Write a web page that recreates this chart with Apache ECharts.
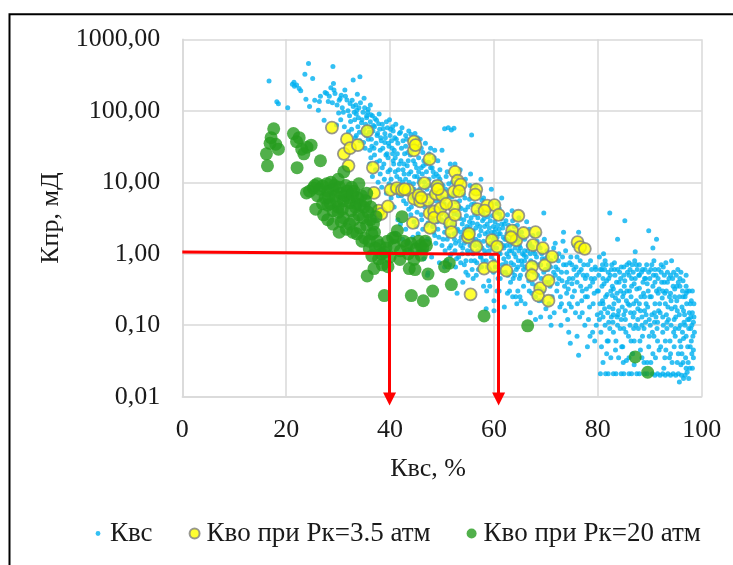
<!DOCTYPE html>
<html>
<head>
<meta charset="utf-8">
<script src="https://cdn.jsdelivr.net/npm/echarts@6/dist/echarts.min.js"></script>
<style>
html,body{margin:0;padding:0;background:#fff;}
#chart{width:733px;height:565px;}
</style>
</head>
<body>
<div id="chart"></div>
<script>
// ---- data (x = Квс, %; y = Кпр, мД) ----
const seriesNames = ['Квс', 'Кво при Рк=3.5 атм', 'Кво при Рк=20 атм'];
const yTicks = [0.01, 0.1, 1, 10, 100, 1000];
const xTicks = [0, 20, 40, 60, 80, 100];

const kvsHigh = [[16.7,260],[18.2,134],[18.5,125],[20.3,110],[21.2,235],[21.5,250],[21.6,220],[22,230],[22.5,205],[22.8,190],[23.6,325],[23.8,145],[24.3,460],[25.1,284],[24.5,115],[25.5,140],[26.2,102],[26.4,135],[26.6,160],[27.5,180],[27.8,174],[27.3,74],[28.1,135],[28.6,210],[29.0,415],[29.1,240],[29.2,195],[29.7,63],[30.1,93],[30.4,148],[30.6,165],[31.3,195],[31.7,141],[32.0,51],[32.3,126],[32.4,71],[32.9,115],[32.9,269],[33.6,102],[33.5,90],[34.2,300],[34.0,110],[34.8,95],[35.5,80],[35.8,105],[36.2,70],[36.6,85],[37.4,74],[37.0,60],[38.0,55],[38.5,65],[39.0,48],[39.5,58],[40.0,45],[40.6,52],[41.2,40],[41.8,48],[42.5,38],[43.0,45],[44.0,47],[44.5,35],[45.3,42],[46.0,30],[50.5,56],[51.2,58],[51.8,54],[52.3,57],[55.7,46]];

const kvsBandA = [[33.2,75],[33.8,60],[34.5,68],[35.0,55],[35.4,45],[36.0,50],[36.4,40],[36.8,62],[37.3,35],[37.6,48],[38.2,42],[38.6,30],[39.0,36],[39.4,25],[39.8,32],[40.3,38],[33.5,45],[34.2,38],[35.2,30],[36.1,28],[37.0,24],[38.0,20],[38.8,18],[39.6,22],[40.0,15],[35.5,85],[34.8,50],[36.5,32]];

const kvsBandB = [[40.5,60],[40.8,28],[41.0,22],[41.3,12],[41.5,35],[41.8,18],[42.0,9],[42.2,30],[42.5,15],[42.8,25],[43.0,11],[43.2,40],[43.5,20],[43.8,7],[44.0,14],[44.2,28],[44.5,9.5],[44.8,18],[45.0,5],[45.2,12],[45.5,22],[45.7,8],[46.0,3.5],[46.0,16],[43.6,4.2],[42.6,5.5],[41.6,6.5],[44.6,2.8],[45.4,1.9],[42.4,1.6],[43.4,1.4],[44.4,1.7],[46.0,1.2],[40.9,42],[42.0,50],[43.0,32],[45.0,30],[46.3,26],[41.2,9],[40.2,11]];

const kvsBandC = [[46.5,20],[46.6,10],[46.8,6],[47.0,14],[47.0,2.5],[47.3,0.54],[47.4,9],[47.6,4],[47.8,16],[48.0,7],[48.2,3],[48.4,12],[48.6,1.8],[48.8,5.5],[49.0,10],[49.2,2.2],[49.4,7.5],[49.6,15],[49.8,3.6],[50.0,1.3],[50.2,9],[50.4,5],[50.6,2.7],[50.8,12],[51.0,1.6],[51.2,6.5],[51.4,3.2],[51.6,18],[51.8,1.0],[52.0,4.2],[46.9,1.1],[48.0,0.9],[49.5,0.75],[50.5,0.65],[51.5,0.7],[47.5,25],[48.5,22],[49.2,20],[50.0,28],[51.0,14],[52.0,10],[47.2,0.5],[48.8,1.4]];

const kvsBandD = [[52.2,7],[52.4,2.5],[52.6,1.4],[52.8,12],[53.0,3.5],[53.2,0.9],[53.4,5.5],[53.6,2],[53.8,8],[54.0,1.2],[54.2,3],[54.4,6],[54.6,0.8],[54.8,2.4],[55.0,4.5],[55.2,1.6],[55.4,9],[55.6,3.2],[55.8,0.6],[56.0,2.1],[56.2,5],[56.4,1.3],[56.6,3.8],[56.8,2.6],[57.0,7],[57.2,1.8],[57.4,0.9],[57.6,4],[57.8,2.9],[58.0,1.5],[52.5,18],[53.5,15],[54.5,11],[55.5,13],[56.5,9],[57.5,11],[52.9,0.28],[54.0,0.4],[55.0,0.5],[56.0,0.45],[57.0,0.6],[58.0,0.35],[53.3,4.5],[54.3,2.2],[55.3,2.8],[56.3,3.5],[57.3,2.4],[54.7,1.9],[55.7,1.1],[56.9,1.1],[53.7,1.7],[52.3,1.9],[58.0,6],[57.9,0.8]];

const kvsBandE = [[58.2,2.4],[58.4,1],[58.6,0.3],[58.8,3.3],[59.0,1.7],[59.2,0.6],[59.4,4.4],[59.6,2],[59.8,1.2],[60.0,0.8],[60.2,2.8],[60.4,1.5],[60.6,5],[60.8,0.45],[61.0,2.2],[61.2,1],[61.4,3.1],[61.6,0.7],[61.8,1.7],[62.0,2.6],[62.2,0.55],[62.4,1.3],[62.6,3.5],[62.8,0.9],[63.0,2],[63.2,0.4],[63.4,1.1],[63.6,2.9],[63.8,0.7],[64.0,1.6],[64.2,0.25],[64.4,0.2],[58.5,0.17],[60.0,0.22],[62.0,0.18],[61.0,0.3],[59.5,8],[61.5,6],[63.5,4],[60.5,3.8],[62.5,1.9],[59.0,0.42],[63.0,0.3],[64.0,0.5],[60.9,1.9],[61.9,1.2],[58.9,1.3],[59.9,2.4],[62.9,1.5],[63.9,1]];

const kvsBandF = [[64.5,2.5],[64.7,0.8],[64.9,1.3],[65.1,0.5],[65.3,2],[65.5,1],[65.7,0.35],[65.9,1.6],[66.1,0.65],[66.3,2.8],[66.5,1.1],[66.7,0.42],[66.9,1.4],[67.1,0.8],[67.3,0.28],[67.5,1.8],[67.7,0.55],[67.9,1.0],[68.1,0.35],[68.3,1.5],[68.5,0.7],[68.7,0.22],[68.9,1.2],[69.1,0.45],[69.3,0.85],[69.5,0.3],[69.7,1.6],[69.9,0.6],[70.0,0.17],[65.0,0.25],[66.0,0.2],[67.0,0.15],[68.0,0.12],[69.0,0.13],[69.6,3.7],[66.8,2.2],[68.6,1.9],[64.8,3.2],[67.4,1.25],[65.8,0.95]];

const kvsBandG = [[70.3,0.9],[70.6,0.4],[70.9,0.65],[71.2,0.25],[71.5,1.2],[71.8,0.5],[72.1,0.3],[72.4,0.8],[72.7,0.18],[73.0,0.55],[73.3,1.5],[73.4,2],[73.6,0.35],[73.9,0.7],[74.2,0.12],[74.5,0.45],[74.7,0.056],[74.8,0.9],[75.1,0.25],[75.4,0.6],[75.7,0.15],[76.0,0.4],[76.3,0.038],[76.3,2.0],[76.6,0.8],[76.9,0.22],[77.2,0.5],[77.5,0.1],[77.8,0.32],[78.1,0.7],[78.4,0.18],[78.7,0.45],[79.0,0.08],[79.3,0.28],[79.6,0.6],[79.9,0.14],[71.0,0.1],[72.0,0.9],[73.0,0.2],[74.0,0.28],[75.0,0.38],[76.0,0.9],[77.0,0.3],[78.0,0.25],[79.0,0.4],[72.5,0.45],[74.5,0.2],[76.5,0.13],[78.5,0.07],[77.0,1.1],[75.5,1.3]];

const kvsBandH = [[80.2,0.5],[80.4,0.2],[80.6,0.08],[80.8,0.35],[81.0,0.13],[81.1,1.0],[81.3,0.6],[81.5,0.25],[81.7,0.04],[81.9,0.15],[82.1,0.45],[82.3,3.7],[82.3,0.09],[82.5,0.3],[82.7,0.7],[82.9,0.11],[83.1,0.2],[83.3,0.5],[83.5,0.06],[83.8,1.6],[83.7,0.28],[83.9,0.14],[84.1,0.4],[84.3,0.09],[84.5,0.65],[84.7,0.18],[84.9,0.03],[85.1,0.35],[85.2,2.9],[85.3,0.12],[85.5,0.22],[85.7,0.55],[85.9,0.07],[86.1,0.3],[86.3,0.15],[86.5,0.45],[86.7,0.04],[86.9,0.2],[87.1,0.8],[87.2,1.07],[87.3,0.1],[87.5,0.32],[87.7,0.17],[87.9,0.5],[88.1,0.06],[88.3,0.25],[88.5,0.13],[88.7,0.4],[88.9,0.09],[89.1,0.6],[89.3,0.2],[89.5,0.03],[89.7,0.3],[89.8,2.1],[89.9,0.12],[80.5,0.021],[82,0.021],[83.5,0.021],[85,0.021],[86.5,0.021],[88,0.021],[89,0.021],[81,0.03],[84,0.035],[87,0.028],[80.9,0.7],[81.7,0.42],[82.8,0.26],[84.0,0.22],[85.0,0.5],[86.0,0.75],[87.0,0.38],[88.0,0.7],[89.0,0.16],[90.0,0.45]];

const kvsBandI = [[90.3,0.25],[90.5,0.08],[90.6,1.2],[90.7,0.5],[90.9,0.15],[91.1,0.035],[91.3,1.6],[91.3,0.3],[91.5,0.11],[91.7,0.6],[91.9,0.2],[92.1,0.05],[92.3,0.4],[92.5,0.13],[92.7,0.025],[92.9,0.28],[93.1,0.75],[93.3,0.09],[93.5,0.18],[93.7,0.45],[93.9,0.06],[94.1,0.22],[94.3,0.03],[94.5,0.35],[94.7,0.12],[94.9,0.07],[95.1,0.5],[95.3,0.16],[95.5,0.04],[95.7,0.25],[95.9,0.1],[96.1,0.02],[96.3,0.3],[96.5,0.065],[96.7,0.14],[96.9,0.035],[97.1,0.2],[97.3,0.05],[97.5,0.09],[97.7,0.025],[97.9,0.13],[98.1,0.04],[98.3,0.07],[95.7,0.016],[94,0.02],[92,0.02],[91,0.02],[93,0.02],[95,0.02],[96.5,0.018],[90.8,0.8],[92.6,0.65],[94.2,0.8],[96.0,0.55],[97.0,0.35],[98.0,0.22],[96.8,0.1],[95.8,0.06],[97.6,0.15],[93.2,0.14],[91.8,0.32],[94.8,0.25],[98.4,0.11]];

const kvsFillA = [[28.3,160],[28.9,130],[29.4,175],[29.8,120],[30.2,140],[30.8,110],[31.0,95],[31.4,160],[31.9,100],[32.2,85],[32.7,140],[33.1,95],[33.4,120],[33.9,80],[34.3,130],[34.6,75],[35.1,110],[35.3,65],[35.7,95],[36.0,60],[36.3,88],[36.7,52],[37.1,78],[37.5,45],[37.8,66],[38.3,38],[38.7,56],[39.1,42],[39.3,70],[39.7,35],[40.1,55],[40.4,30],[30.5,75],[31.2,60],[32.6,55],[33.3,42],[34.1,50],[34.9,36],[35.8,40],[36.9,30],[38.1,28],[39.2,24],[40.6,20],[37.9,90],[36.2,120],[35.0,150],[33.7,170],[39.9,75],[41.1,65],[42.3,58],[43.6,52],[44.8,48],[45.8,40],[46.8,35],[47.8,30],[48.6,28]];

const kvsFillB = [[40.7,18],[41.0,14],[41.4,25],[41.9,11],[42.1,20],[42.7,13],[42.9,8],[43.3,17],[43.7,10],[43.9,24],[44.3,6],[44.7,12],[45.1,16],[45.3,7],[45.6,10],[45.9,5.5],[46.2,13],[46.4,7],[46.7,4.5],[46.9,18],[47.1,8],[47.5,11],[47.7,5],[47.9,3.2],[48.1,9],[48.3,14],[48.6,4],[48.9,7],[49.1,2.8],[49.3,12],[49.6,5.5],[49.9,3],[49.8,9.5],[44.0,3.5],[45.0,2.4],[46.3,2.2],[47.2,1.6],[48.4,2.0],[49.4,1.7],[43.0,2.2],[42.0,2.6],[41.5,3],[40.8,4.5],[41.1,1.9],[44.9,1.0],[46.5,0.85],[43.8,1.1]];

const kvsFillC = [[50.1,4.2],[50.3,6],[50.5,2],[50.7,8],[50.9,3.4],[51.1,2.3],[51.3,9.5],[51.5,4.8],[51.7,1.3],[51.9,6.2],[52.1,2.9],[52.3,3.6],[52.5,1.1],[52.7,5.3],[52.9,2.1],[53.1,7.5],[53.3,1.5],[53.5,3.1],[53.7,4.3],[53.9,2.6],[54.1,6.8],[54.3,1.4],[54.5,4.1],[54.7,3.4],[54.9,1.1],[55.1,2.2],[55.3,5.8],[55.5,1.8],[55.7,4.9],[55.9,2.7],[56.1,1.5],[56.3,7.4],[56.5,2.3],[56.7,0.75],[56.9,3.2],[57.1,4.5],[57.3,1.3],[57.5,2.1],[57.7,5.6],[57.9,3.6],[50.6,1.1],[51.6,0.95],[52.6,0.65],[53.6,0.75],[54.6,0.55],[55.6,0.8],[56.6,0.5],[57.6,0.65],[53.9,1.0],[55.4,1.3],[56.0,1.0]];

const kvsFillD = [[58.1,3.1],[58.3,1.9],[58.5,0.8],[58.7,2.6],[58.9,4.0],[59.1,1.1],[59.3,2.9],[59.5,0.9],[59.7,3.4],[59.9,1.6],[60.1,2.0],[60.3,0.65],[60.5,1.2],[60.7,2.5],[60.9,1.0],[61.1,3.6],[61.3,1.4],[61.5,0.55],[61.7,2.3],[61.9,0.85],[62.1,1.6],[62.3,2.9],[62.5,1.0],[62.7,0.5],[62.9,2.1],[63.1,1.3],[63.3,0.75],[63.5,1.7],[63.7,0.45],[63.9,2.4],[64.1,1.2],[64.3,0.6],[64.5,1.5],[64.7,1.9],[64.9,0.45],[65.1,1.2],[65.3,0.8],[65.5,1.7],[65.7,0.6],[65.9,1.1],[59.2,0.35],[60.6,0.3],[62.6,0.28],[64.6,0.3],[61.2,0.45],[63.6,0.25],[65.2,0.22],[60.0,0.16],[59.4,5.2],[61.0,4.3]];

const kvsFillE = [[66.2,0.9],[66.4,0.5],[66.6,1.3],[66.8,0.3],[67.0,1.0],[67.2,0.6],[67.4,0.38],[67.6,1.1],[67.8,0.75],[68.0,0.25],[68.2,0.9],[68.4,0.5],[68.6,1.3],[68.8,0.32],[69.0,0.7],[69.2,1.0],[69.4,0.22],[69.6,0.55],[69.8,0.85],[70.0,0.4],[70.2,1.1],[70.4,0.6],[70.6,0.2],[70.8,0.35],[71.0,0.8],[71.3,0.45],[71.6,0.15],[71.9,0.65],[72.2,0.38],[72.5,1.0],[72.8,0.25],[73.1,0.42],[73.4,0.7],[73.7,0.16],[74.0,0.55],[74.3,0.32],[74.6,0.75],[74.9,0.18],[75.2,0.45],[75.5,0.3],[75.8,0.65],[76.1,0.2],[76.4,0.55],[76.7,0.35],[77.0,0.15],[77.3,0.7],[77.6,0.25],[77.9,0.5],[78.2,0.12],[78.5,0.35],[78.8,0.6],[79.1,0.2],[79.4,0.45],[79.7,0.1],[79.9,0.3]];

const kvsFillF = [[80.1,0.3],[80.3,0.12],[80.5,0.6],[80.7,0.05],[80.9,0.22],[81.2,0.38],[81.4,0.1],[81.6,0.7],[81.8,0.27],[82.0,0.06],[82.2,0.18],[82.4,0.5],[82.6,0.13],[82.8,0.35],[83.0,0.08],[83.2,0.6],[83.4,0.24],[83.6,0.4],[83.8,0.1],[84.0,0.16],[84.2,0.55],[84.4,0.3],[84.6,0.05],[84.8,0.25],[85.0,0.14],[85.2,0.42],[85.4,0.08],[85.6,0.3],[85.8,0.2],[86.0,0.5],[86.2,0.1],[86.4,0.25],[86.6,0.7],[86.8,0.13],[87.0,0.06],[87.2,0.45],[87.4,0.22],[87.6,0.6],[87.8,0.09],[88.0,0.33],[88.2,0.16],[88.4,0.55],[88.6,0.07],[88.8,0.28],[89.0,0.45],[89.2,0.11],[89.4,0.7],[89.6,0.18],[89.8,0.05],[90.0,0.25],[90.2,0.6],[90.4,0.14],[90.6,0.35],[90.8,0.07],[91.0,0.2],[91.2,0.5],[91.4,0.09],[91.6,0.28],[91.8,0.045],[92.0,0.15],[92.2,0.7],[92.4,0.24],[92.6,0.1],[92.8,0.4],[93.0,0.06],[93.2,0.3],[93.4,0.55],[93.6,0.12],[93.8,0.25],[94.0,0.04],[94.2,0.17],[94.4,0.45],[94.6,0.08],[94.8,0.32],[95.0,0.13],[95.2,0.22],[95.4,0.6],[95.6,0.09],[95.8,0.35],[96.0,0.05],[96.2,0.18],[96.4,0.42],[96.6,0.11],[96.8,0.25],[97.0,0.07],[97.2,0.3],[97.4,0.03],[97.6,0.12],[97.8,0.2],[98.0,0.06],[98.2,0.15],[98.4,0.045],[81.5,0.021],[83,0.021],[84.5,0.021],[86,0.021],[87.5,0.021],[89.5,0.021],[90.5,0.021],[91.5,0.021],[92.5,0.021],[93.5,0.021],[94.5,0.021],[95.5,0.021],[96.8,0.02],[97.5,0.018],[97.2,0.022],[98.2,0.025],[82.5,0.035],[85.5,0.032],[88.5,0.035],[90.2,0.03],[93.8,0.035],[96.4,0.03],[81.0,0.45],[83.0,0.32],[85.0,0.28],[86.5,0.35],[88.0,0.2],[89.5,0.38],[91.0,0.4],[92.5,0.3],[94.0,0.28],[95.5,0.4],[97.0,0.5],[98.5,0.2],[98.6,0.08],[98.5,0.13],[97.9,0.09],[96.3,0.08],[94.9,0.18],[93.0,0.2],[91.2,0.13],[89.0,0.25],[87.0,0.15],[85.0,0.09],[83.0,0.14],[81.0,0.2]];

const kvsFillG = [[36.1,18],[36.6,12],[37.2,15],[37.7,10],[38.1,13],[38.4,8.5],[38.9,11],[39.3,7],[39.8,9.5],[40.2,6],[36.3,22],[37.4,19],[38.5,16],[39.6,14],[40.4,9],[41.2,7.5],[42.2,6.5],[43.1,5],[44.1,4.5],[45.2,3.8],[46.1,3],[47.3,2.7],[48.2,2.4],[49.2,3.4],[42.7,18],[43.4,26],[44.5,20],[45.5,14],[46.4,17],[47.4,19],[48.1,16],[48.9,13],[49.6,11],[40.5,25],[41.6,15],[42.4,10],[43.6,13],[44.6,8],[45.7,11],[46.6,8.5],[47.6,6.5],[48.6,10],[49.5,6.2]];

const kvsFillH = [[50.2,1.6],[50.8,2.4],[51.3,1.8],[51.9,2.6],[52.4,1.6],[53.0,2.2],[53.6,1.3],[54.2,1.8],[54.8,1.5],[55.4,2.4],[55.9,1.9],[56.5,1.6],[57.1,1.5],[57.7,1.2],[58.2,1.1],[58.8,2.0],[59.4,1.4],[60.0,1.8],[60.6,1.7],[61.2,1.9],[61.8,1.3],[62.4,1.6],[63.0,1.1],[63.6,1.4],[64.2,0.9],[64.8,1.1],[65.4,0.7],[65.9,0.8],[55.0,1.0],[56.3,0.8],[57.5,0.9],[58.7,0.65],[59.9,0.55],[61.1,0.6],[62.3,0.75],[63.5,0.55],[64.6,0.65],[51.4,1.2],[52.8,0.85],[54.3,0.7],[50.9,0.8],[59.1,2.3],[60.3,2.2],[61.5,2.6],[62.8,2.5],[64.0,2.0],[65.0,1.6]];

const kvsFillI = [[80.3,0.9],[80.8,0.6],[81.4,0.8],[82.0,0.55],[82.6,0.6],[83.2,0.75],[83.8,0.6],[84.4,0.45],[85.0,0.65],[85.6,0.7],[86.2,0.6],[86.8,0.55],[87.4,0.7],[88.0,0.5],[88.6,0.6],[89.2,0.45],[89.8,0.55],[90.4,0.7],[91.0,0.6],[91.6,0.45],[92.2,0.55],[92.8,0.5],[93.4,0.4],[94.0,0.5],[94.6,0.55],[95.2,0.35],[95.8,0.45],[96.4,0.25],[97.0,0.28],[97.6,0.3],[98.2,0.3],[80.6,0.15],[81.3,0.17],[82.1,0.11],[82.9,0.17],[83.7,0.13],[84.5,0.12],[85.3,0.16],[86.1,0.19],[86.9,0.09],[87.7,0.12],[88.5,0.1],[89.3,0.14],[90.1,0.1],[90.9,0.11],[91.7,0.16],[92.5,0.08],[93.3,0.11],[94.1,0.1],[94.9,0.09],[95.7,0.14],[96.5,0.16],[97.3,0.12],[98.1,0.1],[84.8,0.05],[86.4,0.06],[88.2,0.045],[89.9,0.07],[91.5,0.06],[93.1,0.045],[94.7,0.05],[96.2,0.04],[97.8,0.05],[95.3,0.03],[92.9,0.035],[90.6,0.04],[88.9,0.03],[86.0,0.035],[83.4,0.045],[81.8,0.06],[98.4,0.035],[97.0,0.025],[96.0,0.028]];

const kvsFillJ = [[70.5,0.7],[71.5,0.55],[72.3,0.6],[73.2,0.9],[74.1,0.4],[75.0,0.7],[75.9,0.5],[76.8,0.6],[77.6,0.45],[78.6,0.8],[79.5,0.65],[70.8,0.13],[72.9,0.1],[74.4,0.08],[76.0,0.07],[78.0,0.05],[79.4,0.06],[73.8,1.1],[71.8,1.4]];

const kvo35 = [[28.8,58],[31.7,40],[31.1,25],[32.3,30],[33.8,33],[32.0,17],[35.6,52],[36.7,16],[36.9,7.1],[37.8,4.0],[38.3,3.6],[39.6,4.6],[40.1,7.8],[41.3,8.3],[42.3,7.8],[43.5,7.8],[44.6,37],[44.6,28],[44.9,33],[44.6,5.9],[44.4,2.7],[45.5,6.6],[45.8,5.4],[46.6,9.7],[47.6,21],[47.3,5.6],[47.6,3.7],[47.7,2.3],[48.5,3.9],[48.5,3.2],[48.8,6.9],[49.1,8.9],[50.0,6.6],[49.7,4.3],[50.2,3.2],[51.6,2.7],[51.8,2.0],[52.3,7.4],[52.5,14],[53.0,10.5],[53.6,9.3],[52.3,4.6],[52.5,3.5],[55.0,1.7],[56.6,7.9],[56.4,6.7],[56.8,4.2],[56.6,1.26],[58.1,0.62],[58.7,4.7],[60.1,4.8],[60.9,3.5],[59.6,1.55],[60.6,1.26],[59.9,0.66],[62.4,0.58],[55.5,0.27],[63.5,2.1],[64.3,1.55],[63.3,1.7],[64.7,3.4],[65.7,1.95],[67.5,1.32],[68.0,2.0],[69.4,1.2],[67.3,0.66],[67.3,0.5],[69.8,0.69],[71.2,0.91],[68.9,0.33],[68.5,0.26],[70.5,0.42],[70.5,0.22],[76.1,1.45],[76.6,1.24],[77.5,1.17],[42.8,8.0],[46.0,6.1],[49.2,8.0],[53.3,7.5],[55.2,1.9],[58.2,4.0],[50.8,5.0]];

const kvo20 = [[17.6,56],[17.1,42],[16.9,35],[18.0,34],[18.5,29],[16.2,25],[16.4,17],[21.4,48],[22.5,42],[23.0,29],[24.8,33],[23.4,25],[26.6,20],[22.1,16],[24.0,31],[22.0,37],[23.9,7.1],[25.7,4.2],[25.2,8.3],[27.0,8.9],[26.0,6.5],[27.5,6.0],[28.0,7.5],[28.5,5.0],[29.0,8.0],[29.5,6.5],[30.0,4.5],[30.5,7.0],[31.0,5.5],[31.1,14],[31.5,9.0],[32.0,6.0],[32.5,4.0],[33.0,7.5],[33.5,5.0],[34.0,3.5],[34.5,6.5],[35.0,4.5],[27.2,3.5],[28.0,3.0],[29.0,2.6],[30.2,2.0],[31.0,3.2],[32.2,2.6],[33.0,3.0],[34.2,2.3],[35.1,1.66],[36.0,1.17],[36.5,0.93],[35.6,0.49],[36.9,0.62],[38.9,0.26],[38.9,1.05],[39.2,1.2],[39.6,0.66],[40.5,1.66],[41.4,2.1],[42.3,3.3],[41.9,0.83],[43.2,1.3],[43.7,0.62],[44.1,0.26],[44.6,0.83],[45.0,1.17],[45.9,1.3],[46.4,0.22],[46.8,1.5],[48.2,0.30],[47.3,0.52],[50.5,0.66],[51.4,0.74],[51.8,0.37],[58.1,0.135],[66.5,0.098],[87.2,0.036],[89.6,0.022],[26.0,9.5],[28.6,10],[30.0,11],[32.6,8.5],[34.0,9.5],[35.5,7.0],[36.2,3.0],[37.0,2.0],[37.5,1.5],[38.0,1.3],[36.5,1.9],[35.5,2.5],[33.6,1.9],[30.0,3.8],[29.0,4.0],[28.0,4.8],[37.8,0.85],[38.5,0.7],[40.0,0.9],[40.8,1.3],[42.0,1.1],[43.5,1.0],[44.8,0.6],[46.0,0.95]];

const kvo20Extra = [[24.5,7.5],[25.5,9],[26.5,8],[27.0,5],[27.8,9.5],[28.2,6.2],[29.3,9],[29.8,5.5],[30.3,8.5],[30.8,4.2],[31.3,6.5],[31.8,7.5],[32.3,5.2],[32.8,6.8],[33.3,4.5],[33.8,6],[34.3,4.8],[34.8,3.2],[35.3,5.5],[35.8,3.8],[36.3,4.5],[36.8,2.6],[37.3,3.3],[30.6,2.8],[31.6,2.2],[32.8,2.0],[34.6,1.5],[36.0,1.5],[37.2,1.2],[38.3,1.0],[39.5,1.5],[41.0,1.7],[42.6,1.5],[44.0,1.4],[45.5,1.5],[46.3,1.2],[47.0,1.3]];

// red guide lines (data coordinates)
const guideH = [[0, 1.06], [60.9, 0.98]];
const guideV = [[[39.9, 0.99], [39.9, 0.0093]], [[60.9, 0.98], [60.9, 0.0093]]];

// ---- chart ----
const kvsAll = [].concat(kvsHigh, kvsBandA, kvsBandB, kvsBandC, kvsBandD, kvsBandE, kvsBandF, kvsBandG, kvsBandH, kvsBandI,
  kvsFillA, kvsFillB, kvsFillC, kvsFillD, kvsFillE, kvsFillF, kvsFillG, kvsFillH, kvsFillI, kvsFillJ);
const kvo20All = [].concat(kvo20, kvo20Extra);
const FONT = "'Liberation Serif', 'Times New Roman', 'DejaVu Serif', serif";
const TXT = '#1a1a1a';
const chart = echarts.init(document.getElementById('chart'), null, {renderer: 'canvas'});
const fmt = v => Number(v).toFixed(2).replace('.', ',');

chart.setOption({
  animation: false,
  backgroundColor: '#ffffff',
  textStyle: {fontFamily: FONT},
  graphic: [{
    type: 'rect', silent: true, z: 100,
    shape: {x: 9.5, y: 14.3, width: 740, height: 600},
    style: {fill: 'none', stroke: '#000', lineWidth: 2}
  }],
  grid: {left: 182.3, right: 31.3, top: 39.3, bottom: 168.3, containLabel: false},
  legend: {
    data: [
      {name: seriesNames[0], icon: 'path://M0,0M10,10M2.6,5A2.4,2.4,0,1,1,7.4,5A2.4,2.4,0,1,1,2.6,5Z'},
      {name: seriesNames[1], icon: 'circle'},
      {name: seriesNames[2], icon: 'circle'}
    ],
    left: 88, top: 515, itemWidth: 10, itemHeight: 10, itemGap: 36,
    textStyle: {fontFamily: FONT, fontSize: 27, color: TXT, padding: [0, 0, 0, 2]}
  },
  xAxis: {
    type: 'value', min: xTicks[0], max: xTicks[xTicks.length - 1], interval: 20,
    name: 'Квс, %', nameLocation: 'middle', nameGap: 59,
    nameTextStyle: {fontFamily: FONT, fontSize: 26, color: TXT, padding: [0, 28, 0, 0]},
    axisLine: {show: true, lineStyle: {color: '#d9d9d9', width: 1.5}},
    axisTick: {show: false},
    axisLabel: {fontFamily: FONT, fontSize: 26, color: TXT, margin: 20},
    splitLine: {show: true, lineStyle: {color: '#d9d9d9', width: 1.5}}
  },
  yAxis: {
    type: 'log', logBase: 10, min: yTicks[0], max: yTicks[yTicks.length - 1],
    name: 'Кпр, мД', nameLocation: 'middle', nameGap: 118,
    nameTextStyle: {fontFamily: FONT, fontSize: 26, color: TXT},
    axisLine: {show: true, lineStyle: {color: '#d9d9d9', width: 1.5}},
    axisTick: {show: false},
    axisLabel: {fontFamily: FONT, fontSize: 26, color: TXT, margin: 22, formatter: fmt},
    splitLine: {show: true, lineStyle: {color: '#d9d9d9', width: 1.5}}
  },
  series: [
    {
      name: seriesNames[0], type: 'scatter', data: kvsAll, symbol: 'circle', symbolSize: 5,
      itemStyle: {color: '#00b0f0'}, silent: true, z: 2
    },
    {
      name: seriesNames[1], type: 'scatter', data: kvo35, symbol: 'circle', symbolSize: 12,
      itemStyle: {color: '#ffff00', borderColor: '#808080', borderWidth: 1.8}, silent: true, z: 3
    },
    {
      name: seriesNames[2], type: 'scatter', data: kvo20All, symbol: 'circle', symbolSize: 13,
      itemStyle: {color: '#259c1e'}, silent: true, z: 4
    },
    {
      type: 'lines', coordinateSystem: 'cartesian2d', clip: false, silent: true, z: 5,
      symbol: 'none',
      lineStyle: {color: '#ff0000', width: 3, opacity: 1},
      data: [{coords: guideH}]
    },
    {
      type: 'lines', coordinateSystem: 'cartesian2d', clip: false, silent: true, z: 5,
      symbol: ['none', 'triangle'], symbolSize: 13,
      lineStyle: {color: '#ff0000', width: 3, opacity: 1},
      itemStyle: {color: '#ff0000'},
      data: guideV.map(c => ({coords: c}))
    }
  ]
});
</script>
</body>
</html>
